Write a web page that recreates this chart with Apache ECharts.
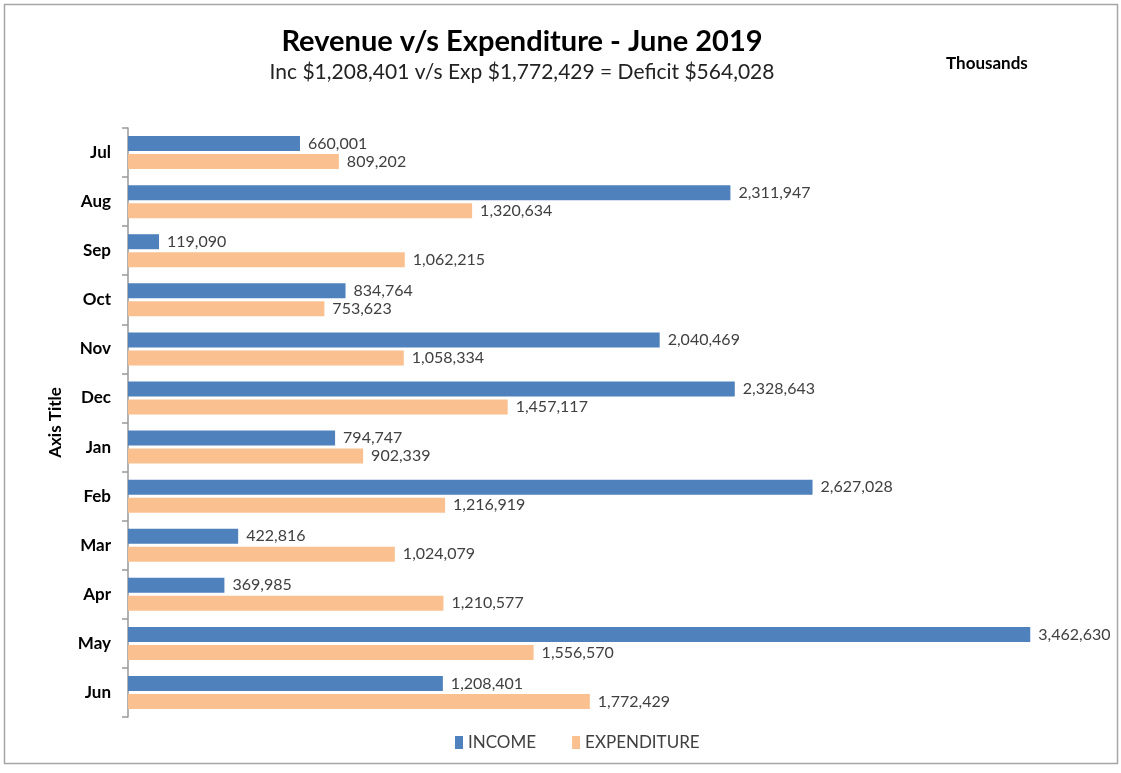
<!DOCTYPE html>
<html>
<head>
<meta charset="utf-8">
<title>Revenue v/s Expenditure - June 2019</title>
<script src="https://cdn.jsdelivr.net/npm/echarts@6/dist/echarts.min.js"></script>
<style>
  html, body { margin: 0; padding: 0; background: #ffffff; }
  #chart { width: 1121px; height: 773px; }
</style>
</head>
<body>
<div id="chart"></div>
<script>
// Monthly figures (thousands), fiscal year July 2018 - June 2019
const months = ['Jul', 'Aug', 'Sep', 'Oct', 'Nov', 'Dec', 'Jan', 'Feb', 'Mar', 'Apr', 'May', 'Jun'];
const income = [660001, 2311947, 119090, 834764, 2040469, 2328643, 794747, 2627028, 422816, 369985, 3462630, 1208401];
const expenditure = [809202, 1320634, 1062215, 753623, 1058334, 1457117, 902339, 1216919, 1024079, 1210577, 1556570, 1772429];

const FONT = 'Lato, "Open Sans", sans-serif';
const fmt = v => v.toLocaleString('en-US');

const chart = echarts.init(document.getElementById('chart'), null, { renderer: 'canvas' });

chart.setOption({
  animation: false,
  backgroundColor: '#ffffff',
  textStyle: { fontFamily: FONT },
  title: [
    {
      text: 'Revenue v/s Expenditure - June 2019',
      subtext: 'Inc $1,208,401 v/s Exp $1,772,429 = Deficit $564,028',
      left: 517, top: 22, textAlign: 'center',
      textStyle: { fontFamily: FONT, fontSize: 29, fontWeight: 'bold', color: '#000000' },
      subtextStyle: { fontFamily: FONT, fontSize: 21, color: '#222222' },
      itemGap: 6
    },
    {
      text: 'Thousands',
      left: 941, top: 50,
      textStyle: { fontFamily: FONT, fontSize: 17, fontWeight: 'bold', color: '#000000' }
    }
  ],
  legend: {
    bottom: 17, left: 450,
    itemWidth: 8, itemHeight: 13, itemGap: 36,
    icon: 'rect',
    textStyle: { fontFamily: FONT, fontSize: 17, color: '#404040' },
    data: ['INCOME', 'EXPENDITURE']
  },
  grid: { left: 128, right: 81, top: 128, bottom: 56 },
  xAxis: {
    type: 'value',
    min: 0, max: 3500000,
    show: false
  },
  yAxis: {
    type: 'category',
    data: months,
    inverse: true,
    name: 'Axis Title',
    nameLocation: 'middle',
    nameGap: 64,
    nameRotate: 90,
    nameTextStyle: { fontFamily: FONT, fontSize: 17, fontWeight: 'bold', color: '#000000' },
    axisLine: { lineStyle: { color: '#999999', width: 1.5 } },
    axisTick: { show: true, length: 6, lineStyle: { color: '#999999', width: 1.5 } },
    axisLabel: { fontFamily: FONT, fontSize: 17, fontWeight: 'bold', color: '#000000', margin: 17 }
  },
  series: [
    {
      name: 'INCOME',
      type: 'bar',
      data: income,
      barWidth: 15,
      barGap: '20%',
      itemStyle: { color: '#4f81bd' },
      label: {
        show: true, position: 'right', distance: 8,
        fontFamily: FONT, fontSize: 16, color: '#404040',
        formatter: p => fmt(p.value)
      }
    },
    {
      name: 'EXPENDITURE',
      type: 'bar',
      data: expenditure,
      barWidth: 15,
      barGap: '20%',
      itemStyle: { color: '#fac090' },
      label: {
        show: true, position: 'right', distance: 8,
        fontFamily: FONT, fontSize: 16, color: '#404040',
        formatter: p => fmt(p.value)
      }
    }
  ],
  graphic: [
    {
      type: 'rect',
      shape: { x: 4.5, y: 4.5, width: 1113, height: 759 },
      style: { fill: 'none', stroke: '#a6a6a6', lineWidth: 1.5 },
      silent: true
    }
  ]
});
</script>
</body>
</html>
